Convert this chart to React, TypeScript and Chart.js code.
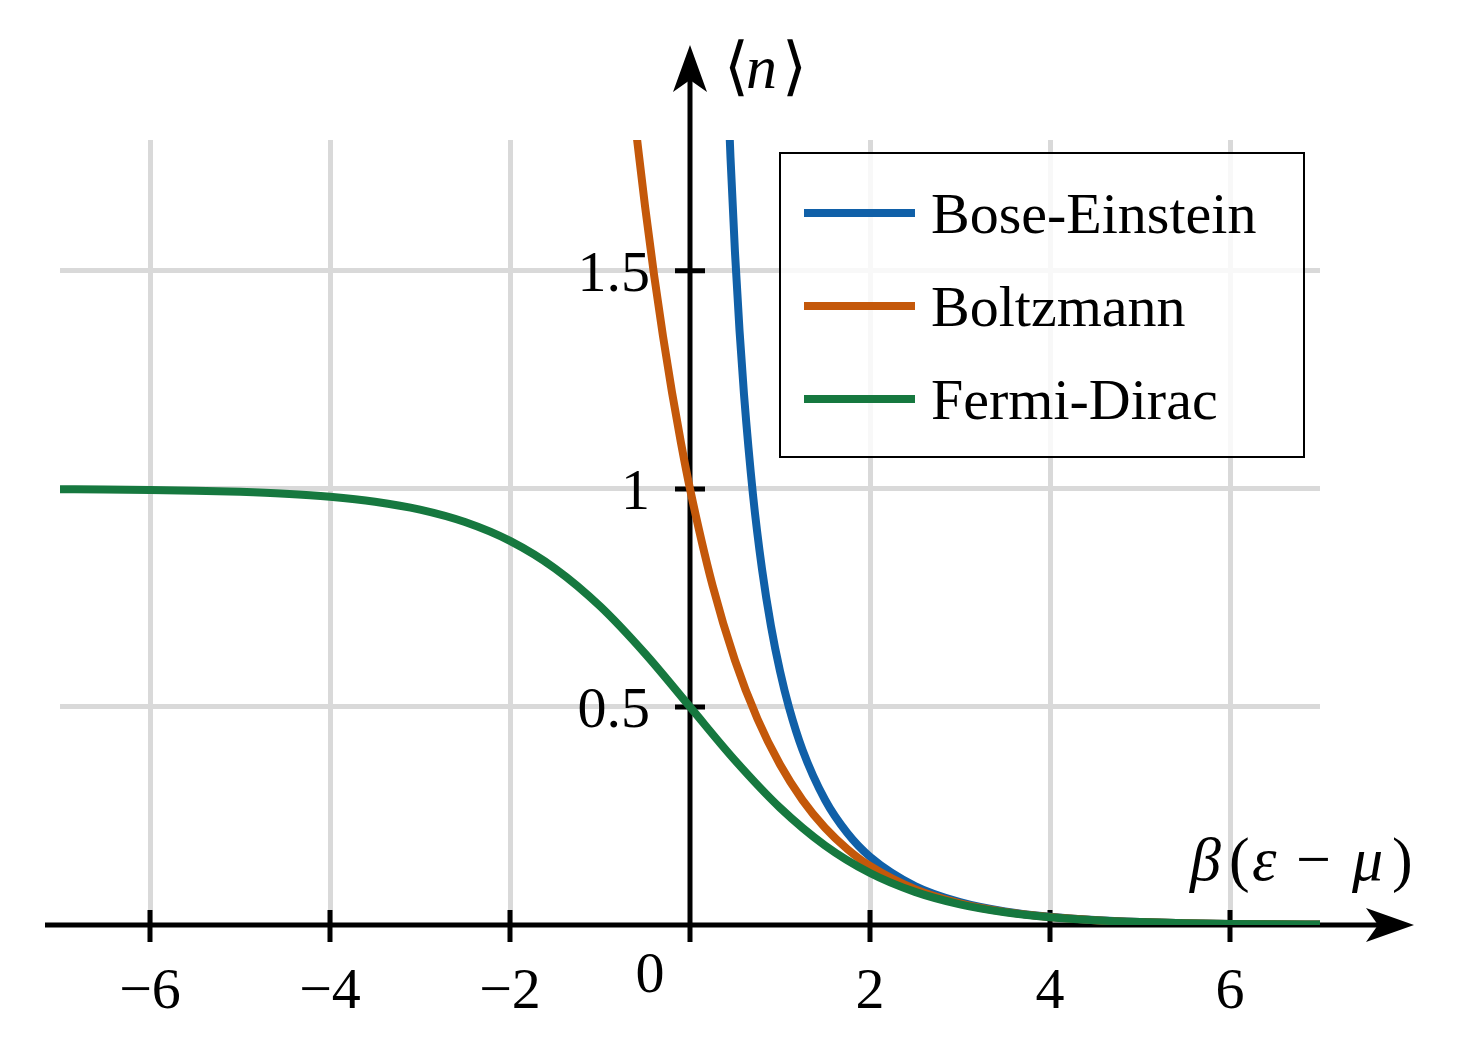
import { useEffect, useRef } from "react";
import { Chart, registerables } from "chart.js";
import type { ChartConfiguration, Plugin } from "chart.js";

Chart.register(...registerables);

// values
const fermiX = [
  -7, -6.5, -6, -5.5, -5, -4.5, -4, -3.5, -3, -2.5, -2, -1.5, -1, -0.5, 0,
  0.5, 1, 1.5, 2, 2.5, 3, 3.5, 4, 4.5, 5, 5.5, 6, 6.5, 7,
];
const fermiY = [
  0.9991, 0.9985, 0.9975, 0.9959, 0.9933, 0.989, 0.982, 0.9707, 0.9526,
  0.9241, 0.8808, 0.8176, 0.7311, 0.6225, 0.5, 0.3775, 0.2689, 0.1824, 0.1192,
  0.0759, 0.0474, 0.0293, 0.018, 0.011, 0.0067, 0.0041, 0.0025, 0.0015, 0.0009,
];
const boltzX = [
  -0.6, -0.5, -0.4, -0.3, -0.2, -0.1, 0, 0.25, 0.5, 0.75, 1, 1.25, 1.5, 1.75,
  2, 2.5, 3, 3.5, 4, 4.5, 5, 5.5, 6, 6.5, 7,
];
const boltzY = [
  1.8221, 1.6487, 1.4918, 1.3499, 1.2214, 1.1052, 1, 0.7788, 0.6065, 0.4724,
  0.3679, 0.2865, 0.2231, 0.1738, 0.1353, 0.0821, 0.0498, 0.0302, 0.0183,
  0.0111, 0.0067, 0.0041, 0.0025, 0.0015, 0.0009,
];
const boseX = [
  0.42, 0.45, 0.5, 0.55, 0.6, 0.7, 0.8, 0.9, 1, 1.1, 1.25, 1.5, 1.75, 2, 2.5,
  3, 3.5, 4, 4.5, 5, 5.5, 6, 6.5, 7,
];
const boseY = [
  1.916, 1.7596, 1.5415, 1.3637, 1.2164, 0.9864, 0.816, 0.6851, 0.582, 0.499,
  0.4016, 0.2872, 0.2103, 0.1565, 0.0894, 0.0524, 0.0311, 0.0187, 0.0112,
  0.0068, 0.0041, 0.0025, 0.0015, 0.0009,
];
const xTicks = [-6, -4, -2, 2, 4, 6];
const yTicks = [0.5, 1, 1.5];
const yTickLabels = ["0.5", "1", "1.5"];

const SERIF = '"Liberation Serif", "DejaVu Serif", serif';
const FONT_PX = 58;

const zip = (xs: number[], ys: number[]) => xs.map((x, i) => ({ x, y: ys[i] }));

// glyph, left x, italic, size
type Glyph = [string, number, boolean, number];

function drawGlyphs(ctx: CanvasRenderingContext2D, glyphs: Glyph[], y: number) {
  ctx.textAlign = "left";
  for (const [t, x, it, size] of glyphs) {
    ctx.font = `${it ? "italic " : ""}${size}px ${SERIF}`;
    ctx.fillText(t, x, y);
  }
}

const axesPlugin: Plugin<"line"> = {
  id: "axes",
  beforeDatasetsDraw(chart) {
    const ctx = chart.ctx;
    const xs = chart.scales.x;
    const ys = chart.scales.y;
    const x0 = xs.getPixelForValue(0);
    const y0 = ys.getPixelForValue(0);
    ctx.save();
    ctx.strokeStyle = "#000";
    ctx.fillStyle = "#000";
    ctx.lineWidth = 5;

    // x axis
    ctx.beginPath();
    ctx.moveTo(45, y0);
    ctx.lineTo(1380, y0);
    ctx.stroke();
    ctx.beginPath();
    ctx.moveTo(1414, y0);
    ctx.lineTo(1366, y0 - 17);
    ctx.lineTo(1378, y0);
    ctx.lineTo(1366, y0 + 17);
    ctx.closePath();
    ctx.fill();

    // y axis
    ctx.beginPath();
    ctx.moveTo(x0, y0 + 17);
    ctx.lineTo(x0, 80);
    ctx.stroke();
    ctx.beginPath();
    ctx.moveTo(x0, 45);
    ctx.lineTo(x0 - 17, 92);
    ctx.lineTo(x0, 80);
    ctx.lineTo(x0 + 17, 92);
    ctx.closePath();
    ctx.fill();

    // tick marks
    ctx.beginPath();
    for (const v of xTicks) {
      const px = xs.getPixelForValue(v);
      ctx.moveTo(px, y0 - 15);
      ctx.lineTo(px, y0 + 17);
    }
    for (const v of yTicks) {
      const py = ys.getPixelForValue(v);
      ctx.moveTo(x0 - 15, py);
      ctx.lineTo(x0 + 15, py);
    }
    ctx.stroke();

    // tick labels
    ctx.font = `${FONT_PX}px ${SERIF}`;
    ctx.textAlign = "center";
    ctx.textBaseline = "alphabetic";
    for (const v of xTicks) {
      const label = v < 0 ? `\u2212${-v}` : `${v}`;
      ctx.fillText(label, xs.getPixelForValue(v), y0 + 83);
    }
    ctx.fillText("0", x0 - 40, y0 + 67);
    ctx.textAlign = "right";
    yTicks.forEach((v, i) => {
      ctx.fillText(yTickLabels[i], x0 - 40, ys.getPixelForValue(v) + 20);
    });

    // axis titles
    drawGlyphs(
      ctx,
      [
        ["\u27E8", 724, false, 64],
        ["n", 746, true, 62],
        ["\u27E9", 782, false, 64],
      ],
      88
    );
    drawGlyphs(
      ctx,
      [
        ["\u03B2", 1190, true, 62],
        ["(", 1229, false, 62],
        ["\u03B5", 1252, true, 62],
        ["\u2212", 1296, false, 62],
        ["\u03BC", 1352, true, 62],
        [")", 1392, false, 62],
      ],
      880
    );
    ctx.restore();
  },
};

const legendPlugin: Plugin<"line"> = {
  id: "boxLegend",
  afterDraw(chart) {
    const ctx = chart.ctx;
    const items = [0, 1, 2].map((i) => chart.data.datasets[i]);
    ctx.save();
    ctx.fillStyle = "rgba(255,255,255,0.8)";
    ctx.fillRect(780, 153, 524, 304);
    ctx.strokeStyle = "#000";
    ctx.lineWidth = 2;
    ctx.strokeRect(780, 153, 524, 304);
    ctx.font = `${FONT_PX}px ${SERIF}`;
    ctx.textAlign = "left";
    ctx.textBaseline = "alphabetic";
    items.forEach((ds, i) => {
      const y = 213 + i * 93;
      ctx.strokeStyle = ds.borderColor as string;
      ctx.lineWidth = 8;
      ctx.beginPath();
      ctx.moveTo(804, y);
      ctx.lineTo(915, y);
      ctx.stroke();
      ctx.fillStyle = "#000";
      ctx.fillText(ds.label as string, 931, y + 20);
    });
    ctx.restore();
  },
};

export default function App() {
  const canvasRef = useRef<HTMLCanvasElement>(null);

  useEffect(() => {
    document.body.style.margin = "0";
    if (!canvasRef.current) return;

    const config: ChartConfiguration<"line"> = {
      type: "line",
      data: {
        datasets: [
          {
            label: "Bose-Einstein",
            data: zip(boseX, boseY),
            borderColor: "#1060A8",
            order: 3,
          },
          {
            label: "Boltzmann",
            data: zip(boltzX, boltzY),
            borderColor: "#C4580A",
            order: 2,
          },
          {
            label: "Fermi-Dirac",
            data: zip(fermiX, fermiY),
            borderColor: "#16783F",
            order: 1,
          },
        ],
      },
      options: {
        responsive: false,
        animation: false,
        devicePixelRatio: 1,
        layout: { padding: { left: 60, right: 139, top: 140, bottom: 128 } },
        elements: {
          line: { borderWidth: 8, cubicInterpolationMode: "monotone", fill: false },
          point: { radius: 0, hoverRadius: 0 },
        },
        datasets: { line: { clip: 0 } },
        plugins: { legend: { display: false }, tooltip: { enabled: false } },
        scales: {
          x: {
            type: "linear",
            min: -7,
            max: 7,
            afterBuildTicks: (s) => {
              s.ticks = xTicks.map((value) => ({ value }));
            },
            afterFit: (s) => {
              s.height = 0;
            },
            ticks: { display: false },
            border: { display: false },
            grid: { color: "#d9d9d9", lineWidth: 5, drawTicks: false },
          },
          y: {
            type: "linear",
            min: 0,
            max: 1.8,
            afterBuildTicks: (s) => {
              s.ticks = yTicks.map((value) => ({ value }));
            },
            afterFit: (s) => {
              s.width = 0;
            },
            ticks: { display: false },
            border: { display: false },
            grid: { color: "#d9d9d9", lineWidth: 5, drawTicks: false },
          },
        },
      },
      plugins: [axesPlugin, legendPlugin],
    };

    const chart = new Chart(canvasRef.current, config);
    return () => chart.destroy();
  }, []);

  return (
    <div style={{ width: 1459, height: 1053, background: "#fff" }}>
      <canvas ref={canvasRef} width={1459} height={1053}></canvas>
    </div>
  );
}
